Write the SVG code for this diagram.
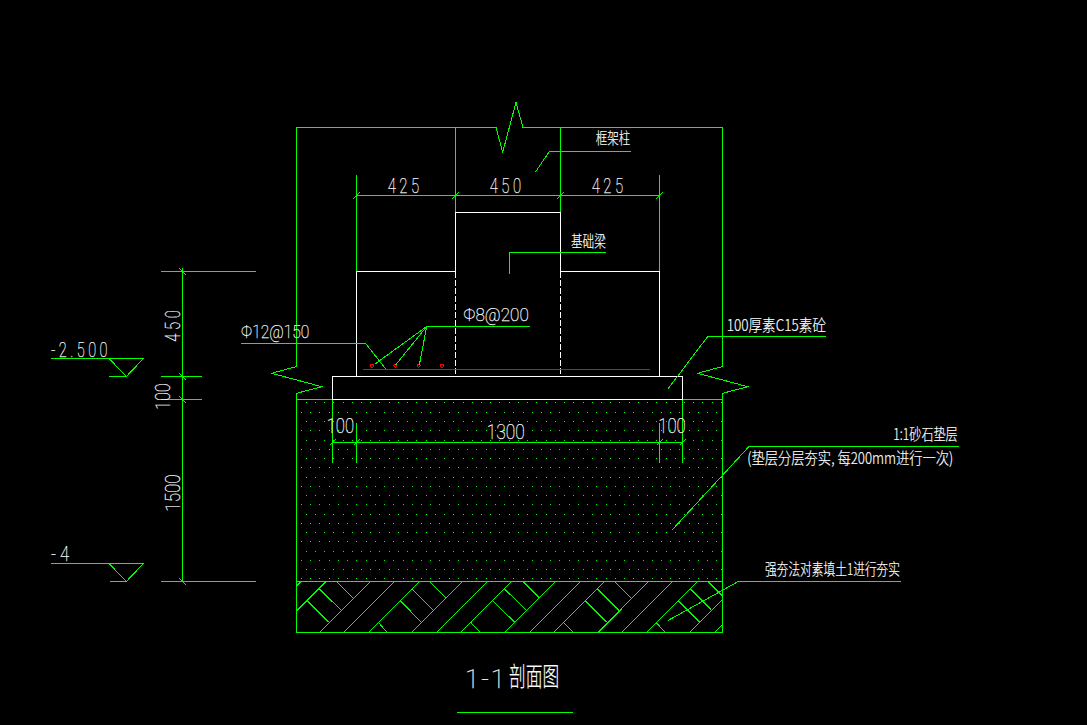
<svg xmlns="http://www.w3.org/2000/svg" width="1087" height="725" viewBox="0 0 1087 725">
<style>
.g{fill:none;stroke:#00ff00;stroke-width:1;shape-rendering:crispEdges}
.w{fill:none;stroke:#ffffff;stroke-width:1;shape-rendering:crispEdges}
.d{stroke-dasharray:6 2}
.r{fill:none;stroke:#ff0000;stroke-width:1;shape-rendering:crispEdges}
.dots{fill:none;stroke:#00ff00;stroke-width:1;stroke-dasharray:1 8.23;shape-rendering:crispEdges}
text{fill:#ffffff;font-family:"Roboto","Liberation Sans","Noto Sans CJK SC",sans-serif;font-weight:100;font-size:21px;stroke:#ffffff;stroke-width:.25px}
.n{letter-spacing:5px}
.c{font-family:"Noto Sans CJK SC",sans-serif;font-size:16px;font-weight:200;stroke-width:.2px}
</style>
<rect width="1087" height="725" fill="#000000"/>

<g id="sand-bed-dots">
<path class="dots" d="M301 578.5H722M301 560H722M301 541.5H722M301 523H722M301 504.5H722M301 486H722M301 467.5H722M301 449H722M301 430.5H722M301 412H722"/>
<path class="dots" d="M305.6 569.5H722M305.6 551H722M305.6 532.5H722M305.6 514H722M305.6 495.5H722M305.6 477H722M305.6 458.5H722M305.6 440H722M305.6 421.5H722M305.6 402.5H722"/>
</g>

<g id="soil-hatch">
<path class="g" d="M296.7 610.7L325.7 582M320 632.3L370 582M344 632.3L394.3 582M369 632.3L419 582M412 632.3L462 582M437 632.3L487 582M461 632.3L511 582M505 632.3L555 582M530 632.3L580 582M554 632.3L604 582M598.3 632.3L648 582M622 632.3L672 582M647 632.3L697 582M690 632.3L722.3 600M715 632.3L722.3 625M296.7 585.7L300.7 582"/>
<path class="g" d="M337.3 582L353.3 598.3M319 588.7L341.7 610.7M307.3 600.7L328.7 622.3M378.3 622.3L387 632.3M430 582L445.7 597.7M412 589L433.7 610.7M400.3 600.7L421.3 622.3M470.7 622.3L480 632.3M504.3 588.7L526.7 610.7M492.7 600.7L514.7 622.3M523.3 582L539 597.7M563.3 622.3L573.3 632.3M615 582L631 597.7M597.3 588.7L619.3 610.7M585.3 600.7L606.7 622.3M656 622.3L665 632.3M708.3 582L722.3 596M690.3 588.7L712 610.7M678.3 600.7L700 622.3"/>
</g>

<g id="outline">
<path class="g" d="M296.5 366.5V127.5H496L502.7 152.3L516 102.3L523 127.5H722.5V366.5L697.7 373.3L747.7 386.7L722.5 393.3V632.5H296.5V393.3L321.7 386.7L271.7 373.3L296.5 366.5"/>
<path class="g" d="M296.5 399.5H332.5M682.5 399.5H722.5M296.5 581.5H722.5M455.5 127.5V212.5M560.5 127.5V212.5"/>
</g>

<g id="foundation-beam">
<path class="w" d="M356.5 376.5V271.5H455.5V212.5H560.5V271.5H659.5V376.5"/>
<path class="w d" d="M455.5 272V376M560.5 272V376"/>
<rect class="w" x="332.5" y="376.5" width="350" height="23"/>
</g>

<g id="rebar">
<path class="r" d="M363 369.5H650"/>
<circle class="r" cx="372" cy="365.7" r="1.5"/>
<circle class="r" cx="395.3" cy="365.7" r="1.5"/>
<circle class="r" cx="418.7" cy="365.7" r="1.5"/>
<circle class="r" cx="442" cy="365.7" r="1.5"/>
</g>

<g id="connectors">
<path class="g" d="M535.3 172.3L549.3 151.5H630.7"/>
<path class="g" d="M509.5 273.7V252.5H605.7"/>
<path class="g" d="M241 343.5H365.7L385.7 369"/>
<path class="g" d="M530 326.5H426.7L375 364M426.7 326.5L395.3 365.3M426.7 326.5L419.3 365.3"/>
<path class="g" d="M667.7 389.3L707.7 336.5H826"/>
<path class="g" d="M672.3 529.7L749 446.5H959"/>
<path class="g" d="M668.3 620.3L738.3 581.5H900.7"/>
</g>

<g id="dimensions">
<path class="g" d="M356.5 175V271M455.5 175V212M560.5 175V212M659.5 175V271M356.5 195.5H660"/>
<path class="g" d="M353 199L360 192M452 199L459 192M557 199L564 192M656 199L663 192"/>
<path class="g" d="M332.5 399.5V462.5M356.5 422.5V462.5M659.5 422.5V462.5M682.5 399.5V462.5M332 442.5H683"/>
<path class="g" d="M329.5 445.5L335.5 439.5M353.5 445.5L359.5 439.5M656.5 445.5L662.5 439.5M679.5 445.5L685.5 439.5"/>
<path class="g" d="M182.5 268V581.5M161 271.5H256M161 376.5H202M161 399.5H202M161 581.5H256"/>
<path class="g" d="M179 268L186 275M179 373L186 380M179 396L186 403M179 578L186 585"/>
</g>

<g id="elevations">
<path class="g" d="M51 358.5H143.5L126.3 376.5L109 358.5M109 376.5H126.3"/>
<path class="g" d="M51 563.5H143.5L126.3 581.5L109 563.5M110 581.5H126.3"/>
</g>

<g id="labels">
<text class="n" x="387.7" y="193" textLength="35" lengthAdjust="spacingAndGlyphs">425</text>
<text class="n" x="489.7" y="193" textLength="35" lengthAdjust="spacingAndGlyphs">450</text>
<text class="n" x="591.7" y="193" textLength="35" lengthAdjust="spacingAndGlyphs">425</text>
<text class="c" x="595.7" y="144" textLength="34.5" lengthAdjust="spacingAndGlyphs">框架柱</text>
<text class="c" x="571" y="247" textLength="34.7" lengthAdjust="spacingAndGlyphs">基础梁</text>
<text x="241" y="338" textLength="68.3" lengthAdjust="spacingAndGlyphs" style="font-size:19px">Φ12@150</text>
<text x="463.3" y="320.7" textLength="65.5" lengthAdjust="spacingAndGlyphs" style="font-size:19px">Φ8@200</text>
<text class="c" x="726.7" y="331" textLength="99.3" lengthAdjust="spacingAndGlyphs">100厚素C15素砼</text>
<text class="c" x="893.3" y="440" textLength="64.4" lengthAdjust="spacingAndGlyphs">1:1砂石垫层</text>
<text class="c" x="747.3" y="464" textLength="206" lengthAdjust="spacingAndGlyphs">(垫层分层夯实, 每200mm进行一次)</text>
<text class="c" x="765" y="575" textLength="135" lengthAdjust="spacingAndGlyphs">强夯法对素填土1进行夯实</text>
<text class="n" x="51" y="356.7" textLength="60" lengthAdjust="spacingAndGlyphs">-2.500</text>
<text class="n" x="51" y="561" textLength="22" lengthAdjust="spacingAndGlyphs">-4</text>
<text class="n" transform="translate(180 341.7) rotate(-90)" textLength="35" lengthAdjust="spacingAndGlyphs">450</text>
<text transform="translate(170 410) rotate(-90)" textLength="26.7" lengthAdjust="spacingAndGlyphs">100</text>
<text transform="translate(180 511.7) rotate(-90)" textLength="37.4" lengthAdjust="spacingAndGlyphs">1500</text>
<text x="326.7" y="433.3" textLength="27.3" lengthAdjust="spacingAndGlyphs">100</text>
<text x="486.7" y="439.3" textLength="38" lengthAdjust="spacingAndGlyphs">1300</text>
<text x="658.3" y="433.3" textLength="27.4" lengthAdjust="spacingAndGlyphs">100</text>
</g>

<g id="title">
<text x="465" y="688" style="font-size:26px;letter-spacing:0" textLength="40" lengthAdjust="spacing">1-1</text>
<text class="c" x="509" y="686" textLength="50.3" lengthAdjust="spacingAndGlyphs" style="font-size:26px">剖面图</text>
<path class="g" d="M457 712.5H573"/>
</g>
</svg>
